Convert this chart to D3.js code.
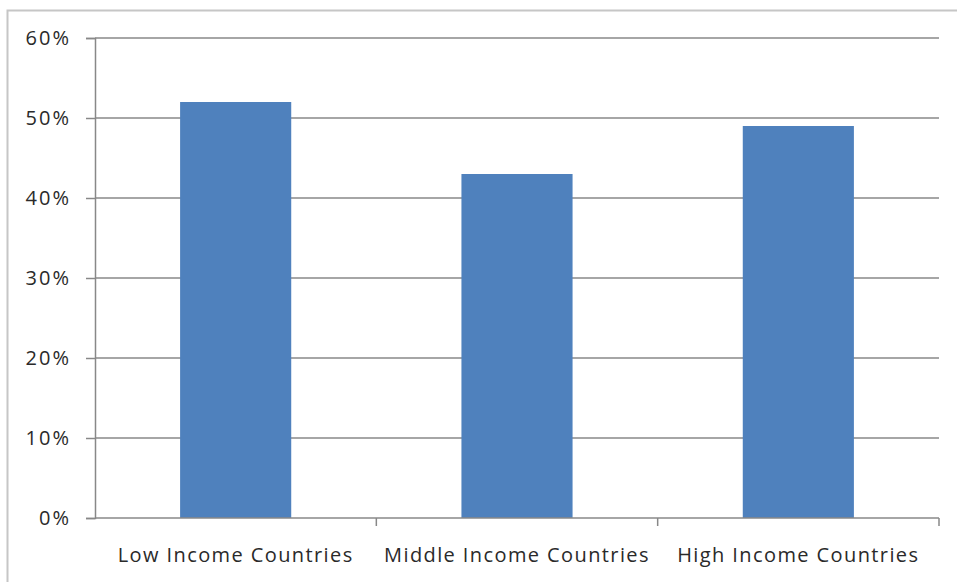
<!DOCTYPE html>
<html>
<head>
<meta charset="utf-8">
<script src="https://cdn.jsdelivr.net/npm/d3@7/dist/d3.min.js"></script>
<style>
  body { margin: 0; background: #fff; }
  svg { display: block; }
  text { font-family: "Open Sans", sans-serif; fill: #2a2a2a; }
</style>
</head>
<body>
<div id="chart"></div>
<script>
var categories = ["Low Income Countries", "Middle Income Countries", "High Income Countries"];
var shares = [0.52, 0.43, 0.49];
var yTicks = [0, 0.1, 0.2, 0.3, 0.4, 0.5, 0.6];

var width = 957,
    height = 582;
var margin = {top: 38, right: 18, bottom: 64, left: 95};

var svg = d3.select("#chart").append("svg")
    .attr("width", width)
    .attr("height", height);

// frame around the chart (only top + left visible in the original)
svg.append("path")
    .attr("d", "M7.5,582 L7.5,10.5 L957,10.5")
    .attr("fill", "none")
    .attr("stroke", "#c6c6c6")
    .attr("stroke-width", 2);

var x = d3.scaleBand()
    .domain(categories)
    .range([margin.left, width - margin.right])
    .paddingInner(0.605)
    .paddingOuter(0.3025);

var y = d3.scaleLinear()
    .domain([0, 0.6])
    .range([height - margin.bottom, margin.top]);

// gridlines
svg.append("g")
    .selectAll("line")
    .data(yTicks.filter(function(d) { return d > 0; }))
    .join("line")
    .attr("x1", margin.left)
    .attr("x2", width - margin.right)
    .attr("y1", function(d) { return y(d); })
    .attr("y2", function(d) { return y(d); })
    .attr("stroke", "#888")
    .attr("stroke-width", 1.5);

// bars
svg.append("g")
    .selectAll("rect")
    .data(shares)
    .join("rect")
    .attr("x", function(d, i) { return x(categories[i]); })
    .attr("y", function(d) { return y(d); })
    .attr("width", x.bandwidth())
    .attr("height", function(d) { return y(0) - y(d); })
    .attr("fill", "#4f81bd");

// y axis
var yAxis = svg.append("g")
    .attr("transform", "translate(" + margin.left + ",0)")
    .call(d3.axisLeft(y).tickValues(yTicks).tickFormat(d3.format(".0%")).tickSizeOuter(0).tickSize(9).tickPadding(15));
yAxis.select(".domain").attr("stroke", "#888").attr("stroke-width", 1.5);
yAxis.selectAll(".tick line").attr("stroke", "#888").attr("stroke-width", 1.5);
yAxis.selectAll(".tick text")
    .attr("font-size", 20)
    .attr("letter-spacing", 2)
    .attr("fill", "#2a2a2a");

// x axis: ticks sit between categories
var step = x.step();
var xEdges = d3.range(categories.length + 1).map(function(i) { return margin.left + i * step; });
var xAxis = svg.append("g");
xAxis.append("line")
    .attr("x1", margin.left).attr("x2", width - margin.right)
    .attr("y1", y(0)).attr("y2", y(0))
    .attr("stroke", "#888").attr("stroke-width", 1.5);
xAxis.selectAll(".xt")
    .data(xEdges.slice(1))
    .join("line")
    .attr("class", "xt")
    .attr("x1", function(d) { return d; }).attr("x2", function(d) { return d; })
    .attr("y1", y(0)).attr("y2", y(0) + 8)
    .attr("stroke", "#888").attr("stroke-width", 1.5);
xAxis.selectAll("text")
    .data(categories)
    .join("text")
    .attr("x", function(d) { return x(d) + x.bandwidth() / 2; })
    .attr("y", 562)
    .attr("text-anchor", "middle")
    .attr("font-size", 20)
    .attr("letter-spacing", 1.4)
    .text(function(d) { return d; });
</script>
</body>
</html>
